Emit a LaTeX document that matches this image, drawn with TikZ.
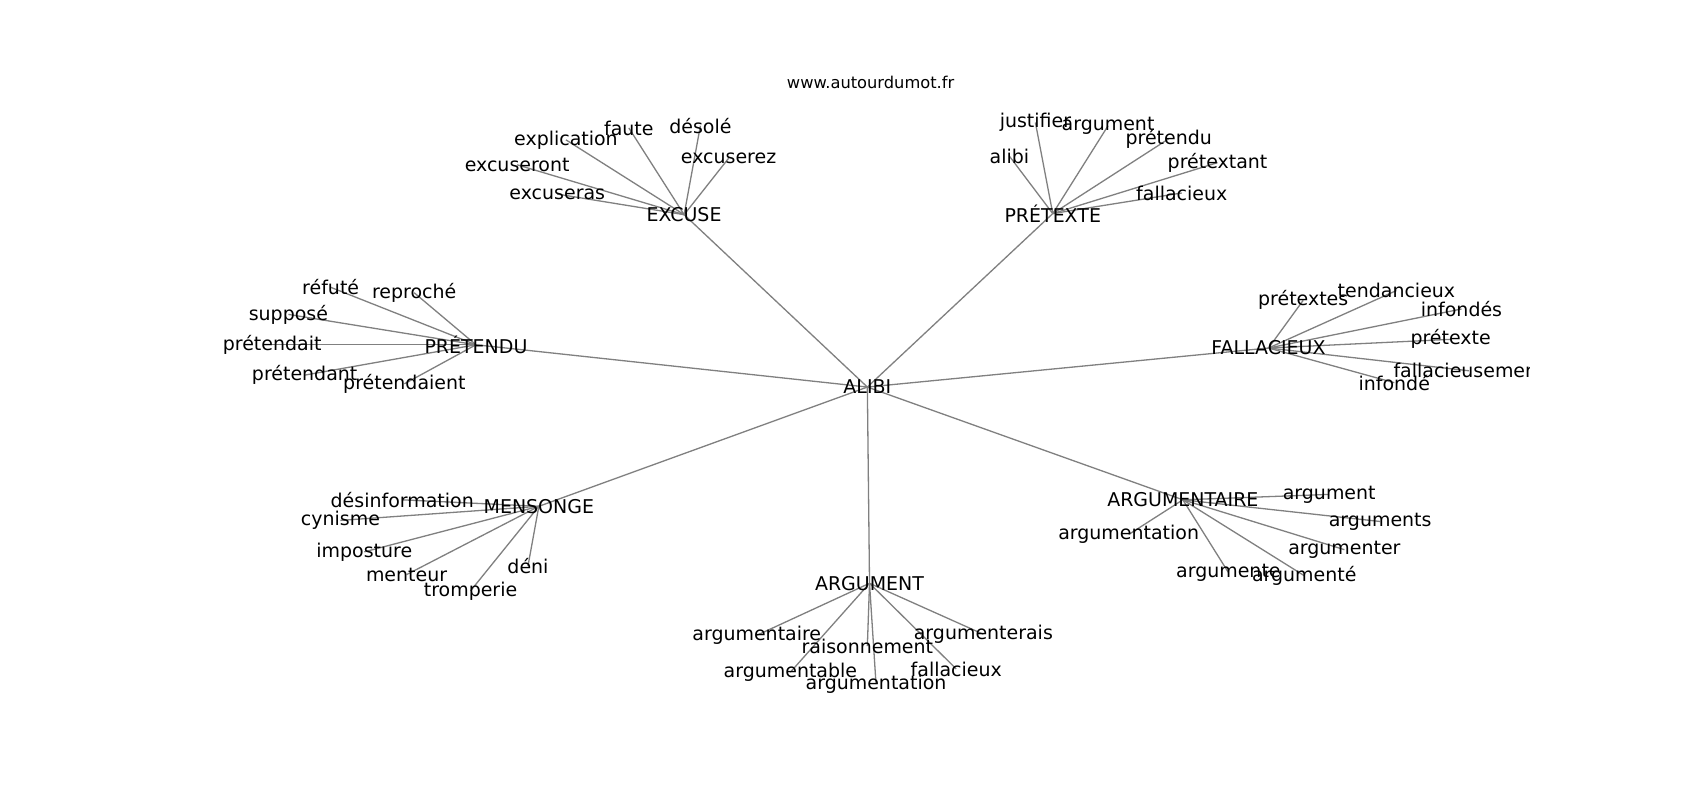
\documentclass[tikz,border=0pt]{standalone}
\usepackage{fontspec}
\setmainfont{DejaVu Sans}
\usetikzlibrary{backgrounds}
\pgfdeclarelayer{paper}
\pgfsetlayers{paper,background,main}
\begin{document}
\begin{tikzpicture}[x=0.5pt,y=-0.5pt,
  lbl/.style={inner sep=0pt, font=\fontsize{8.75}{10}\selectfont, text=black},
  ttl/.style={inner sep=0pt, font=\fontsize{7.5}{9}\selectfont, text=black},
  edge/.style={draw=gray, line width=0.6pt}]
\begin{pgfonlayer}{paper}
\fill[white] (0,0) rectangle (1568,738);
\end{pgfonlayer}
\useasboundingbox (0,0) rectangle (1568,738);
\node[ttl] (title) at (803,76) {www.autourdumot.fr};
\begin{scope}
\clip (196,81) rectangle (1411,649);
% hubs
\node[lbl] (alibi) at (800,357) {ALIBI};
\node[lbl] (excuse) at (631,198) {EXCUSE};
\node[lbl] (pretexte) at (971,197) {PRÉTEXTE};
\node[lbl] (pretendu) at (439,318) {PRÉTENDU};
\node[lbl] (fallacieux) at (1170,321) {FALLACIEUX};
\node[lbl] (mensonge) at (497,467) {MENSONGE};
\node[lbl] (argumentaire) at (1091,461) {ARGUMENTAIRE};
\node[lbl] (argument) at (802,538) {ARGUMENT};
% EXCUSE
\node[lbl] (e1) at (522,129) {explication};
\node[lbl] (e2) at (580,118) {faute};
\node[lbl] (e3) at (646,116) {désolé};
\node[lbl] (e4) at (477,152) {excuseront};
\node[lbl] (e5) at (672,146) {excuserez};
\node[lbl] (e6) at (514,179) {excuseras};
% PRETEXTE
\node[lbl] (p1) at (955,113) {justifier};
\node[lbl] (p2) at (1022,116) {argument};
\node[lbl] (p3) at (931,144) {alibi};
\node[lbl] (p4) at (1078,128) {prétendu};
\node[lbl] (p5) at (1123,150) {prétextant};
\node[lbl] (p6) at (1090,178) {fallacieux};
% PRETENDU
\node[lbl] (d1) at (305,265) {réfuté};
\node[lbl] (d2) at (382,270) {reproché};
\node[lbl] (d3) at (266,290) {supposé};
\node[lbl] (d4) at (251,318) {prétendait};
\node[lbl] (d5) at (281,346) {prétendant};
\node[lbl] (d6) at (373,354) {prétendaient};
% FALLACIEUX
\node[lbl] (f1) at (1202,277) {prétextes};
\node[lbl] (f2) at (1288,268) {tendancieux};
\node[lbl] (f3) at (1348,285) {infondés};
\node[lbl] (f4) at (1338,313) {prétexte};
\node[lbl] (f5) at (1355,342) {fallacieusement};
\node[lbl] (f6) at (1286,353) {infondé};
% MENSONGE
\node[lbl] (m1) at (371,461) {désinformation};
\node[lbl] (m2) at (314,480) {cynisme};
\node[lbl] (m3) at (336,509) {imposture};
\node[lbl] (m4) at (375,530) {menteur};
\node[lbl] (m5) at (434,545) {tromperie};
\node[lbl] (m6) at (487,522) {déni};
% ARGUMENTAIRE
\node[lbl] (a1) at (1226,456) {argument};
\node[lbl] (a2) at (1273,481) {arguments};
\node[lbl] (a3) at (1041,493) {argumentation};
\node[lbl] (a4) at (1240,507) {argumenter};
\node[lbl] (a5) at (1133,528) {argumente};
\node[lbl] (a6) at (1203,531) {argumenté};
% ARGUMENT
\node[lbl] (g1) at (698,586) {argumentaire};
\node[lbl] (g2) at (800,596) {raisonnement};
\node[lbl] (g3) at (907,585) {argumenterais};
\node[lbl] (g4) at (729,620) {argumentable};
\node[lbl] (g5) at (882,617) {fallacieux};
\node[lbl] (g6) at (808,631) {argumentation};
\end{scope}
\begin{pgfonlayer}{background}
\foreach \h in {excuse,pretexte,pretendu,fallacieux,mensonge,argumentaire,argument}
  \draw[edge] (alibi.center) -- (\h.center);
\foreach \l in {e1,e2,e3,e4,e5,e6} \draw[edge] (excuse.center) -- (\l.center);
\foreach \l in {p1,p2,p3,p4,p5,p6} \draw[edge] (pretexte.center) -- (\l.center);
\foreach \l in {d1,d2,d3,d4,d5,d6} \draw[edge] (pretendu.center) -- (\l.center);
\foreach \l in {f1,f2,f3,f4,f5,f6} \draw[edge] (fallacieux.center) -- (\l.center);
\foreach \l in {m1,m2,m3,m4,m5,m6} \draw[edge] (mensonge.center) -- (\l.center);
\foreach \l in {a1,a2,a3,a4,a5,a6} \draw[edge] (argumentaire.center) -- (\l.center);
\foreach \l in {g1,g2,g3,g4,g5,g6} \draw[edge] (argument.center) -- (\l.center);
\end{pgfonlayer}
\end{tikzpicture}
\end{document}
